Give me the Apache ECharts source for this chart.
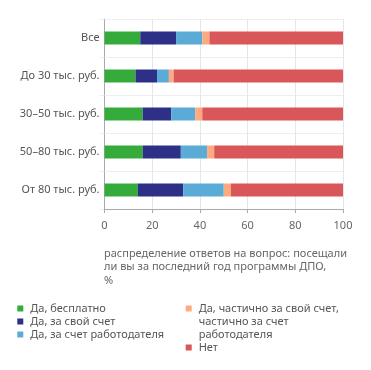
<!DOCTYPE html>
<html><head><meta charset="utf-8">
<script src="https://cdn.jsdelivr.net/npm/echarts@6/dist/echarts.min.js"></script>
<style>html,body{margin:0;padding:0;background:#fff}#c{width:371px;height:370px}</style>
</head><body><div id="c"></div>
<script>
const categories = ['Все', 'До 30 тыс. руб.', '30–50 тыс. руб.', '50–80 тыс. руб.', 'От 80 тыс. руб.'];
const seriesNames = ['Да, бесплатно', 'Да, за свой счет', 'Да, за счет работодателя', 'Да, частично за свой счет,\nчастично за счет\nработодателя', 'Нет'];
const free = [15, 13, 16, 16, 14];
const ownCost = [15, 9, 12, 16, 19];
const employer = [11, 5, 10, 11, 17];
const partial = [3, 2, 3, 3, 3];
const no = [56, 71, 59, 54, 47];
const xTicks = [0, 20, 40, 60, 80, 100];
const colors = ['#34ab3a', '#2e2f86', '#5aacd6', '#fdaa80', '#d95659'];
const subtitle = 'распределение ответов на вопрос: посещали\nли вы за последний год программы ДПО,\n%';

const values = [free, ownCost, employer, partial, no];
const font = 'Noto Sans';
const fs = 11;
const legendIcon = 'path://M0,0h6v6h-6z';
const chart = echarts.init(document.getElementById('c'));
chart.setOption({
  animation: false,
  textStyle: {fontFamily: font},
  title: {
    text: subtitle, left: 104, top: 247, padding: 0,
    textStyle: {fontSize: fs, fontWeight: 'normal', color: '#666', lineHeight: 13.4, fontFamily: font}
  },
  legend: [{
    data: seriesNames.slice(0, 3),
    orient: 'vertical', left: 17.3, top: 302, padding: 0, itemWidth: 10, itemHeight: 6, itemGap: 0,
    icon: legendIcon, symbolKeepAspect: true,
    textStyle: {fontSize: fs, color: '#555', lineHeight: 13, fontFamily: font}
  }, {
    data: seriesNames.slice(3),
    formatter: name => name.indexOf('\n') >= 0 ? '\n\n' + name : name,
    orient: 'vertical', left: 185.7, top: 276, padding: 0, itemWidth: 10, itemHeight: 6, itemGap: 0,
    icon: legendIcon, symbolKeepAspect: true,
    textStyle: {fontSize: fs, color: '#555', lineHeight: 13, fontFamily: font}
  }],
  grid: {left: 104.5, right: 28, top: 19, bottom: 161, containLabel: false},
  xAxis: {
    type: 'value', min: 0, max: 100, interval: 20,
    axisLine: {show: true, lineStyle: {color: '#aaa'}},
    axisTick: {show: true, length: 4, lineStyle: {color: '#aaa'}},
    splitLine: {show: true, lineStyle: {color: '#e6e6e6'}},
    axisLabel: {color: '#666', fontSize: fs, margin: 11,
      formatter: v => xTicks.includes(v) ? String(v) : ''}
  },
  yAxis: {
    type: 'category', inverse: true, data: categories,
    axisLine: {show: true, lineStyle: {color: '#aaa'}},
    axisTick: {show: true, length: 5, lineStyle: {color: '#eee'}},
    splitLine: {show: true, lineStyle: {color: '#eee'}},
    axisLabel: {color: '#555', fontSize: fs, margin: 5}
  },
  series: seriesNames.map((n, i) => ({
    name: n, type: 'bar', stack: 'total', barWidth: 13,
    data: values[i],
    itemStyle: {color: colors[i]}
  }))
});
</script></body></html>
